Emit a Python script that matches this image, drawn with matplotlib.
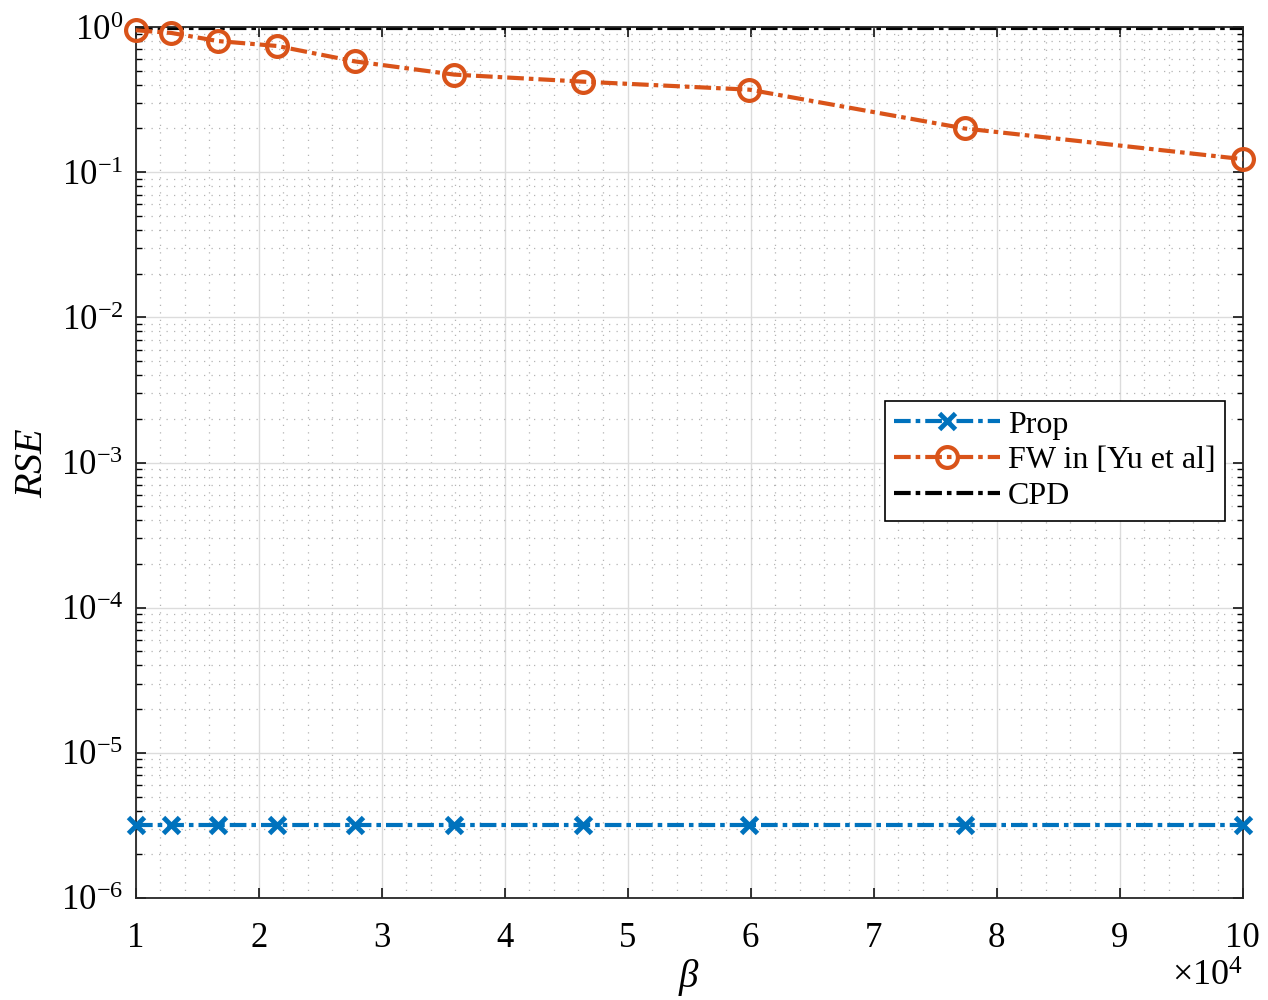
import matplotlib
matplotlib.use('Agg')
import matplotlib.pyplot as plt
from matplotlib.ticker import FixedLocator, LogLocator, NullFormatter, MultipleLocator
import numpy as np

plt.rcParams['font.family'] = ['Liberation Serif', 'DejaVu Serif']
plt.rcParams['mathtext.fontset'] = 'custom'
plt.rcParams['mathtext.rm'] = 'Liberation Serif'
plt.rcParams['mathtext.it'] = 'Liberation Serif:italic'

# beta values (x 1e4)
beta = [1.0, 1.29, 1.67, 2.15, 2.78, 3.59, 4.64, 5.99, 7.74, 10.0]
rse_prop = [3.2e-6, 3.2e-6, 3.2e-6, 3.2e-6, 3.2e-6, 3.2e-6, 3.2e-6, 3.2e-6, 3.2e-6, 3.2e-6]
rse_fw = [0.95, 0.91, 0.80, 0.74, 0.58, 0.47, 0.42, 0.37, 0.20, 0.123]
rse_cpd = [0.99, 0.99, 0.99, 0.99, 0.99, 0.99, 0.99, 0.99, 0.99, 0.99]

blue = '#0072BD'
orange = '#D95319'
dash = (0, (4.0, 1.2, 1.1, 1.2))

fig = plt.figure(figsize=(12.68, 10), dpi=100)
ax = fig.add_axes([0.107, 0.102, 0.873, 0.871])

ax.plot(beta, rse_prop, color=blue, lw=3, linestyle=dash, marker='x',
        ms=11, mew=3.5, label='Prop', clip_on=False, zorder=3)
ax.plot(beta, rse_fw, color=orange, lw=3, linestyle=dash, marker='o',
        ms=15, mew=3, mfc='none', label='FW in [Yu et al]', clip_on=False, zorder=3)
ax.plot(beta, rse_cpd, color='black', lw=3, linestyle=dash, label='CPD', zorder=2)

ax.set_yscale('log')
ax.set_xlim(1, 10)
ax.set_ylim(1e-6, 1)
ax.xaxis.set_major_locator(FixedLocator(range(1, 11)))
ax.xaxis.set_minor_locator(MultipleLocator(0.2))
ax.yaxis.set_minor_locator(LogLocator(base=10, subs=np.arange(2, 10), numticks=100))
ax.yaxis.set_minor_formatter(NullFormatter())

yt = [1e-6, 1e-5, 1e-4, 1e-3, 1e-2, 1e-1, 1]
ax.set_yticks(yt)
ax.set_yticklabels([r'$\mathregular{10^{%d}}$' % e for e in range(-6, 1)])

ax.grid(True, which='major', color='#dcdcdc', lw=1, ls='-')
ax.grid(True, which='minor', color='#b4b4b4', lw=0.9, ls=(0, (1, 5)))
ax.set_axisbelow(True)

ax.tick_params(which='both', direction='in', top=True, right=True, labelsize=25)
ax.tick_params(which='major', length=7, width=1.1)
ax.tick_params(axis='x', which='major', pad=17)
ax.tick_params(axis='y', which='major', pad=9)
ax.tick_params(which='minor', length=4, width=1.0)
ax.tick_params(axis='x', which='minor', length=0)
for s in ax.spines.values():
    s.set_linewidth(1.3)
    s.set_color('#262626')

ax.set_xlabel(r'$\beta$', fontsize=28, labelpad=2)
ax.set_ylabel(r'$RSE$', fontsize=29, labelpad=7)
ax.text(1.0, -0.072, r'$\mathregular{\times10^{4}}$', transform=ax.transAxes,
        ha='right', va='top', fontsize=26)

leg = ax.legend(loc='upper right', bbox_to_anchor=(0.984, 0.571), fontsize=23,
                fancybox=False, framealpha=1, edgecolor='black', handlelength=3.3,
                borderpad=0.3, labelspacing=0.2, handletextpad=0.25, borderaxespad=0)
leg.get_frame().set_linewidth(1.2)

fig.savefig('out.png', dpi=100)
